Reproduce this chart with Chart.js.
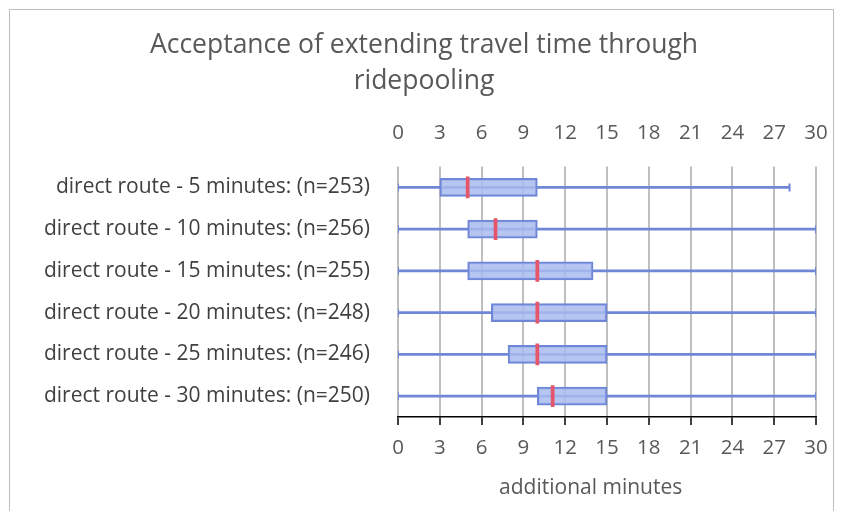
<!DOCTYPE html>
<html>
<head>
<meta charset="utf-8">
<script src="https://cdn.jsdelivr.net/npm/chart.js@4.4.0/dist/chart.umd.min.js"></script>
<style>
  html, body { margin: 0; padding: 0; background: #fff; }
  #wrap { position: relative; width: 845px; height: 511px; }
  #frame { position: absolute; left: 9px; top: 9px; width: 825px; height: 520px; border: 1.5px solid #bdbdbd; box-sizing: border-box; }
  canvas { position: absolute; left: 0; top: 0; }
</style>
</head>
<body>
<div id="wrap">
  <div id="frame"></div>
  <canvas id="chart" width="845" height="511"></canvas>
</div>
<script>
const categories = [
  "direct route - 5 minutes: (n=253)",
  "direct route - 10 minutes: (n=256)",
  "direct route - 15 minutes: (n=255)",
  "direct route - 20 minutes: (n=248)",
  "direct route - 25 minutes: (n=246)",
  "direct route - 30 minutes: (n=250)",
];
const minValues = [0, 0, 0, 0, 0, 0];
const q1Values = [3, 5, 5, 6.7, 7.9, 10];
const medianValues = [5, 7, 10, 10, 10, 11.1];
const q3Values = [10, 10, 14, 15, 15, 15];
const maxValues = [28.1, 30, 30, 30, 30, 30];
const tickValues = [0, 3, 6, 9, 12, 15, 18, 21, 24, 27, 30];

const blue = "#6f87d6";
const boxFill = "rgba(170,187,238,0.85)";
const red = "#e5566a";
const gridGrey = "#bfbfbf";
const textGrey = "#595959";
const fontFamily = "'Open Sans', sans-serif";

const ctx = document.getElementById("chart").getContext("2d");

const capPoints = [];
categories.forEach((c, i) => {
  capPoints.push({ x: minValues[i], y: c });
  capPoints.push({ x: maxValues[i], y: c });
});

// keep the plot area fixed: no extra room for the end labels
const noSidePadding = (scale) => {
  scale.paddingLeft = 0;
  scale.paddingRight = 0;
};

new Chart(ctx, {
  type: "bar",
  data: {
    labels: categories,
    datasets: [
      {
        label: "median",
        data: medianValues.map((m) => [m - 0.11, m + 0.11]),
        backgroundColor: red,
        borderWidth: 0,
        barThickness: 21,
        grouped: false,
        order: 0,
      },
      {
        label: "box",
        data: categories.map((c, i) => [q1Values[i], q3Values[i]]),
        backgroundColor: boxFill,
        borderColor: blue,
        borderWidth: 2,
        borderSkipped: false,
        barThickness: 18,
        grouped: false,
        order: 1,
      },
      {
        label: "whisker",
        data: categories.map((c, i) => [minValues[i], maxValues[i]]),
        backgroundColor: blue,
        borderWidth: 0,
        barThickness: 2,
        grouped: false,
        order: 2,
      },
      {
        label: "caps",
        type: "scatter",
        data: capPoints,
        pointStyle: "line",
        rotation: 90,
        radius: 4,
        borderColor: blue,
        borderWidth: 2,
        order: 0,
      },
    ],
  },
  options: {
    indexAxis: "y",
    responsive: false,
    animation: false,
    layout: { padding: { left: 32, right: 29, top: 0, bottom: 10 } },
    plugins: {
      legend: { display: false },
      tooltip: { enabled: false },
      title: {
        display: true,
        text: ["Acceptance of extending travel time through", "ridepooling"],
        color: textGrey,
        font: { size: 26.5, family: fontFamily, weight: "normal", lineHeight: 1.36 },
        padding: { top: 27, bottom: 0 },
      },
    },
    scales: {
      x: {
        position: "bottom",
        min: 0,
        max: 30,
        afterBuildTicks: (scale) => {
          scale.ticks = tickValues.map((v) => ({ value: v }));
        },
        afterFit: (scale) => {
          scale.height = 84;
          noSidePadding(scale);
        },
        grid: { color: gridGrey, lineWidth: 2, tickColor: "#000", tickLength: 8, tickWidth: 1.5 },
        border: { display: true, color: "#000", width: 1.5 },
        ticks: { color: textGrey, padding: 11, font: { size: 20.5, family: fontFamily } },
        title: {
          display: true,
          text: "additional minutes      ",
          color: textGrey,
          font: { size: 21, family: fontFamily },
          padding: { top: 14, bottom: 0 },
        },
      },
      x2: {
        position: "top",
        axis: "x",
        min: 0,
        max: 30,
        afterBuildTicks: (scale) => {
          scale.ticks = tickValues.map((v) => ({ value: v }));
        },
        afterFit: (scale) => {
          scale.height = 67.5;
          noSidePadding(scale);
        },
        grid: { display: false },
        border: { display: false },
        ticks: { color: textGrey, padding: 13, font: { size: 20.5, family: fontFamily } },
      },
      y: {
        grid: { display: false },
        border: { display: false },
        afterFit: (scale) => {
          scale.width = 366;
        },
        ticks: { color: "#404040", padding: 20, font: { size: 21, family: fontFamily } },
      },
    },
  },
});
</script>
</body>
</html>
